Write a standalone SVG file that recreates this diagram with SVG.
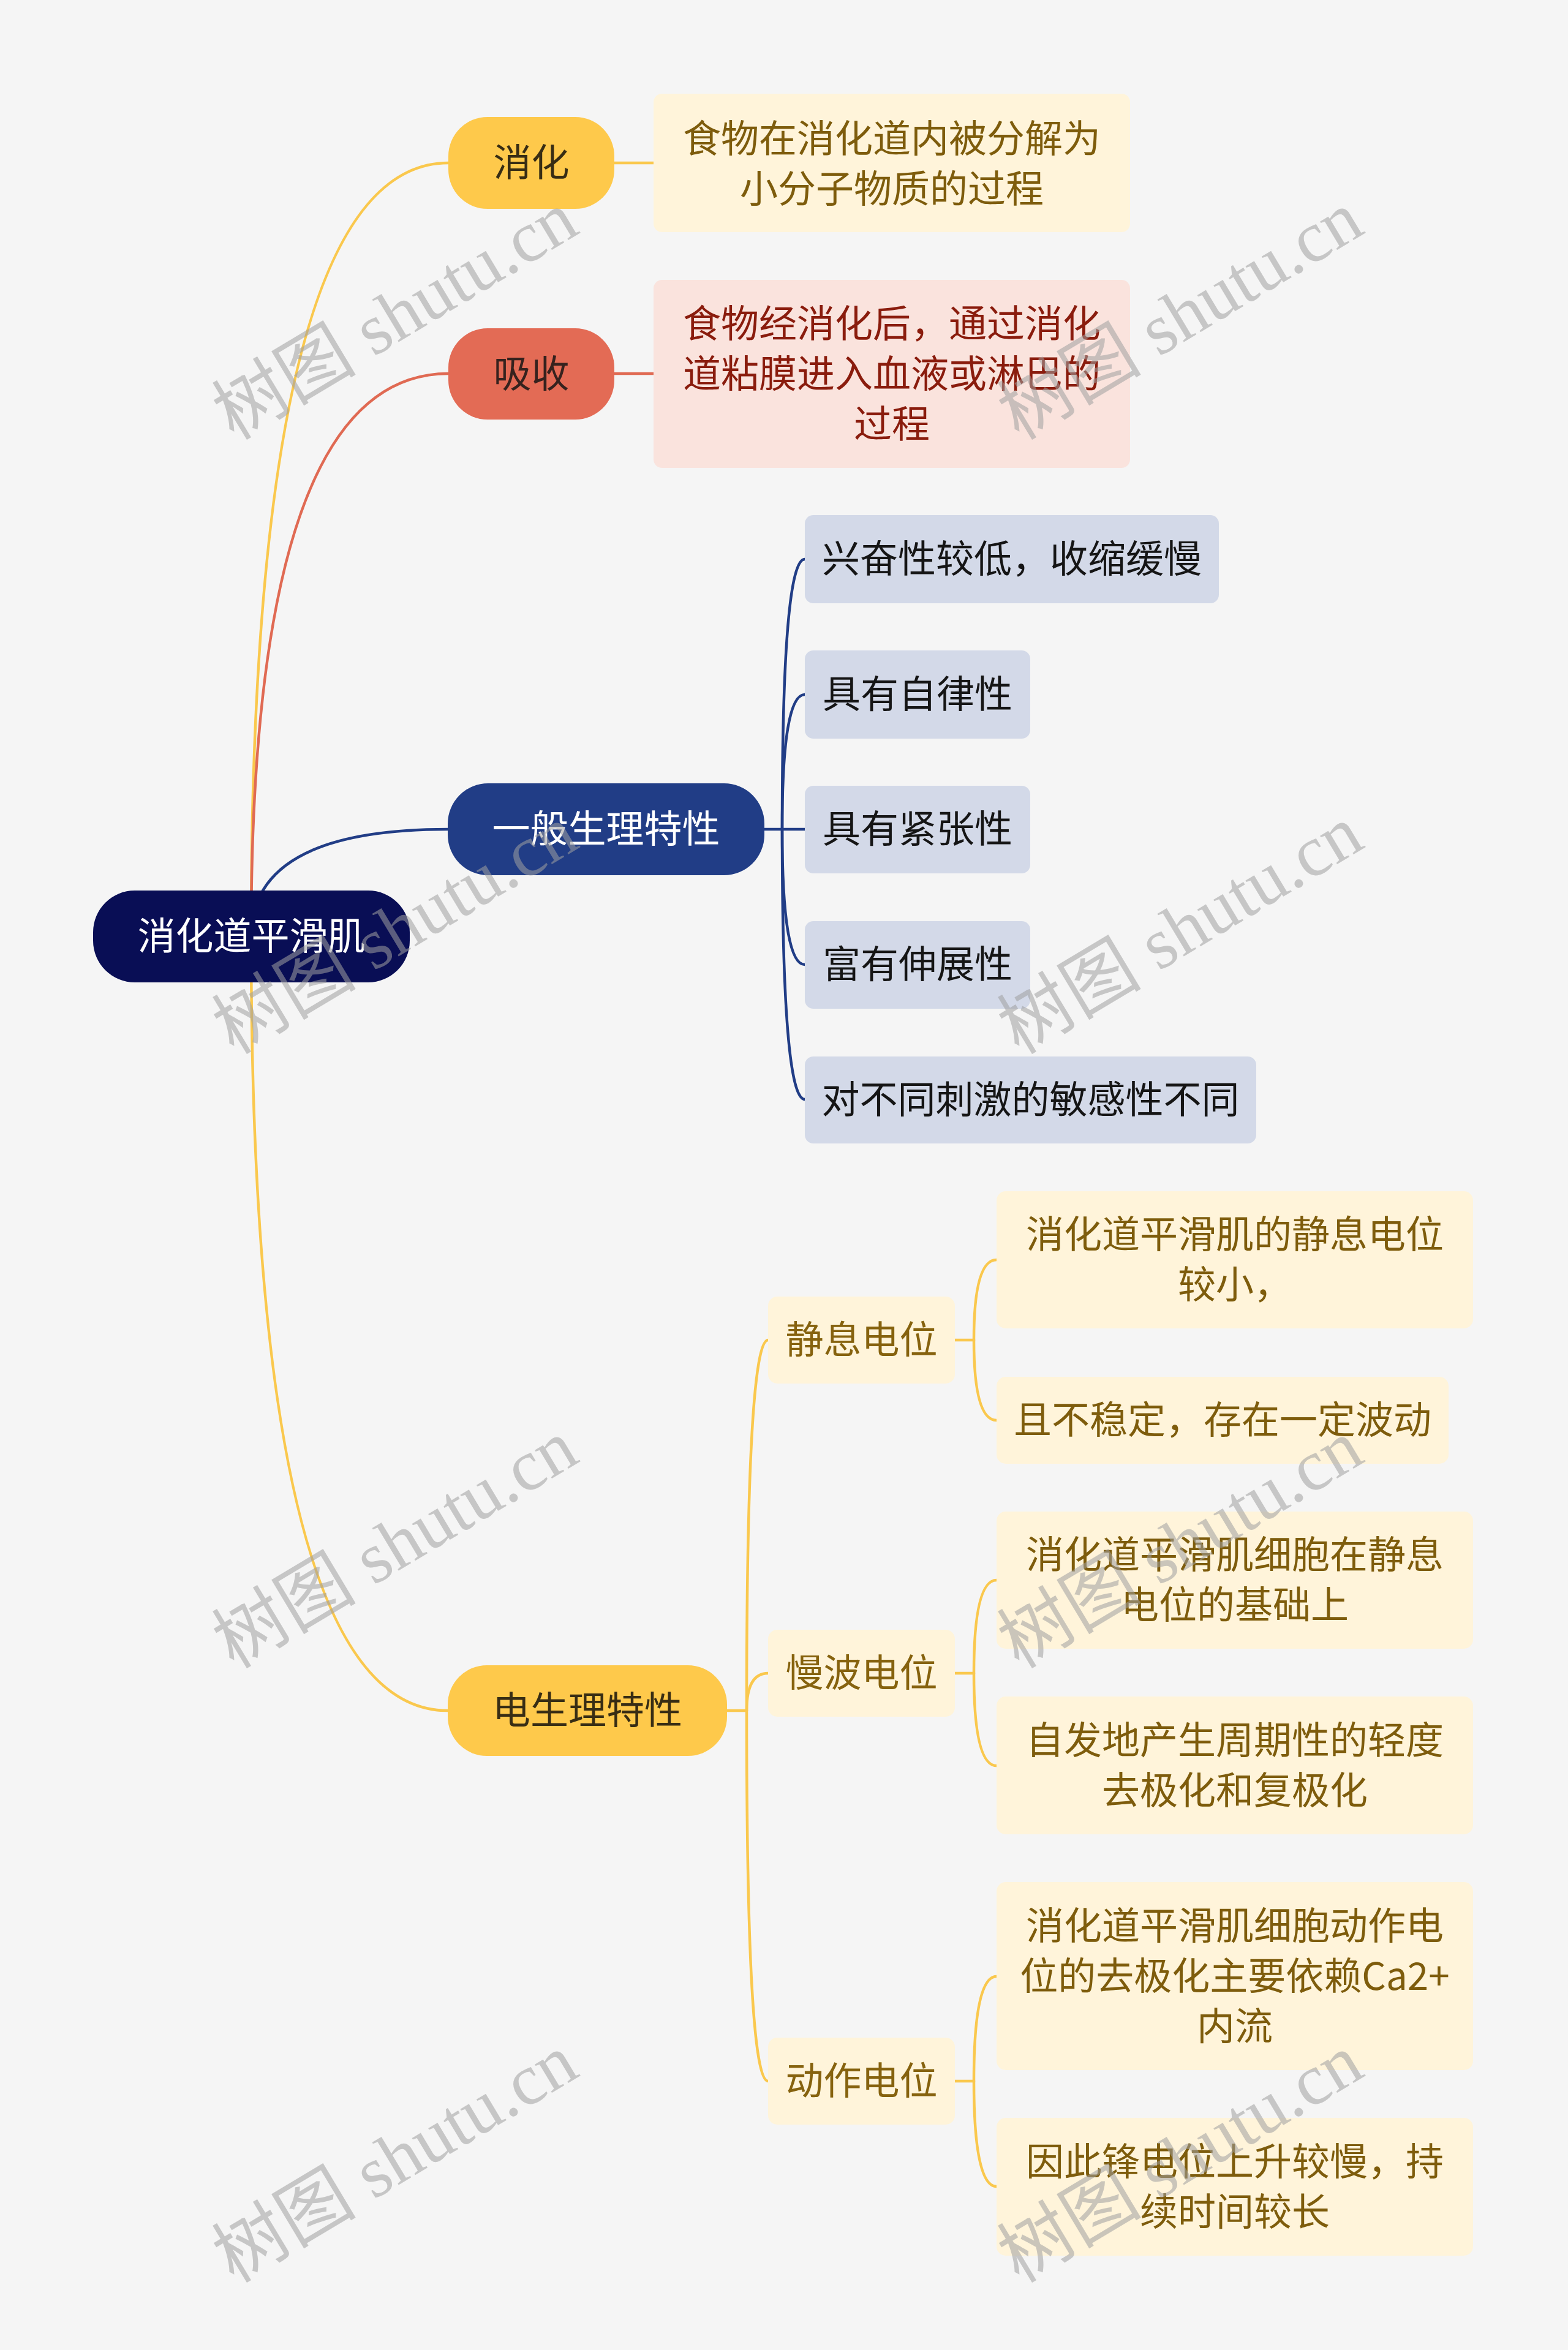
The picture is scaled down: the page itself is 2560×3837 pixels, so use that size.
<svg xmlns="http://www.w3.org/2000/svg" width="2560" height="3837" viewBox="0 0 2560 3837">
<style>
.t{font-family:"Noto Sans CJK SC","Noto Sans",sans-serif;font-size:62px;text-anchor:middle}
.c{fill:none;stroke-width:4.5;stroke-linecap:round}
.y{stroke:#FAC84D}
.r{stroke:#E06A53}
.b{stroke:#213D86}
.wm{font-family:"Liberation Serif","Noto Sans CJK SC",serif;font-size:118px;fill:#A0A0A0;opacity:0.55;text-anchor:middle}
</style>
<rect x="0" y="0" width="2560" height="3837" fill="#F5F5F5"/>
<g id="connectors">
<path class="c y" d="M410,1529 Q410,266 732,266"/>
<path class="c r" d="M410,1529 Q410,610 732,610"/>
<path class="c b" d="M410,1529 Q410,1354 731,1354"/>
<path class="c y" d="M410,1529 Q410,2793 731,2793"/>
<path class="c y" d="M1003,266 H1067"/>
<path class="c r" d="M1003,610 H1067"/>
<path class="c b" d="M1248,1354 H1277"/>
<path class="c b" d="M1277,1354 Q1277,913 1314,913"/>
<path class="c b" d="M1277,1354 Q1277,1134 1314,1134"/>
<path class="c b" d="M1277,1354 H1314"/>
<path class="c b" d="M1277,1354 Q1277,1575 1314,1575"/>
<path class="c b" d="M1277,1354 Q1277,1795 1314,1795"/>
<path class="c y" d="M1187,2793 H1219"/>
<path class="c y" d="M1219,2793 Q1219,2188 1254,2188"/>
<path class="c y" d="M1219,2793 Q1219,2732 1254,2732"/>
<path class="c y" d="M1219,2793 Q1219,3398 1254,3398"/>
<path class="c y" d="M1559,2188 H1590"/>
<path class="c y" d="M1590,2188 Q1590,2057 1627,2057"/>
<path class="c y" d="M1590,2188 Q1590,2319 1627,2319"/>
<path class="c y" d="M1559,2732 H1590"/>
<path class="c y" d="M1590,2732 Q1590,2580 1627,2580"/>
<path class="c y" d="M1590,2732 Q1590,2883 1627,2883"/>
<path class="c y" d="M1559,3398 H1590"/>
<path class="c y" d="M1590,3398 Q1590,3227 1627,3227"/>
<path class="c y" d="M1590,3398 Q1590,3570 1627,3570"/>
</g>
<g id="root">
<rect x="152" y="1454" width="517" height="150" rx="68" fill="#090E55"/>
<text class="t" x="410.5" y="1551" fill="#FFFFFF">消化道平滑肌</text>
</g>
<g id="n-xiaohua">
<rect x="732" y="191" width="271" height="150" rx="64" fill="#FEC94B"/>
<text class="t" x="867.5" y="288" fill="#382D14">消化</text>
</g>
<g id="d-xiaohua">
<rect x="1067" y="153" width="778" height="226" rx="14" fill="#FFF4DA"/>
<text class="t" fill="#7E5C0C"><tspan x="1456" y="249">食物在消化道内被分解为</tspan><tspan x="1456" y="331">小分子物质的过程</tspan></text>
</g>
<g id="n-xishou">
<rect x="732" y="536" width="271" height="149" rx="64" fill="#E36B55"/>
<text class="t" x="867.5" y="633" fill="#36221E">吸收</text>
</g>
<g id="d-xishou">
<rect x="1067" y="457" width="778" height="307" rx="14" fill="#FAE3DD"/>
<text class="t" fill="#8A1C0D"><tspan x="1456" y="551">食物经消化后，通过消化</tspan><tspan x="1456" y="633">道粘膜进入血液或淋巴的</tspan><tspan x="1456" y="715">过程</tspan></text>
</g>
<g id="n-yiban">
<rect x="731" y="1279" width="517" height="150" rx="66" fill="#213D86"/>
<text class="t" x="989.5" y="1376" fill="#FFFFFF">一般生理特性</text>
</g>
<g id="g1">
<rect x="1314" y="841" width="676" height="144" rx="14" fill="#D3D9E8"/>
<text class="t" x="1652" y="935" fill="#151515">兴奋性较低，收缩缓慢</text>
</g>
<g id="g2">
<rect x="1314" y="1062" width="368" height="144" rx="14" fill="#D3D9E8"/>
<text class="t" x="1498" y="1156" fill="#151515">具有自律性</text>
</g>
<g id="g3">
<rect x="1314" y="1283" width="368" height="143" rx="14" fill="#D3D9E8"/>
<text class="t" x="1498" y="1376" fill="#151515">具有紧张性</text>
</g>
<g id="g4">
<rect x="1314" y="1504" width="368" height="143" rx="14" fill="#D3D9E8"/>
<text class="t" x="1498" y="1597" fill="#151515">富有伸展性</text>
</g>
<g id="g5">
<rect x="1314" y="1725" width="737" height="142" rx="14" fill="#D3D9E8"/>
<text class="t" x="1682.5" y="1818" fill="#151515">对不同刺激的敏感性不同</text>
</g>
<g id="n-dian">
<rect x="731" y="2719" width="456" height="148" rx="64" fill="#FEC94B"/>
<text class="t" x="959" y="2815" fill="#382D14">电生理特性</text>
</g>
<g id="n-jingxi">
<rect x="1254" y="2117" width="305" height="142" rx="15" fill="#FFF4DA"/>
<text class="t" x="1406.5" y="2210" fill="#86620E">静息电位</text>
</g>
<g id="n-manbo">
<rect x="1254" y="2661" width="305" height="142" rx="15" fill="#FFF4DA"/>
<text class="t" x="1406.5" y="2754" fill="#86620E">慢波电位</text>
</g>
<g id="n-dongzuo">
<rect x="1254" y="3327" width="305" height="142" rx="15" fill="#FFF4DA"/>
<text class="t" x="1406.5" y="3420" fill="#86620E">动作电位</text>
</g>
<g id="a1">
<rect x="1627" y="1945" width="778" height="224" rx="15" fill="#FFF4DA"/>
<text class="t" fill="#7E5C0C"><tspan x="2016" y="2038">消化道平滑肌的静息电位</tspan><tspan x="2016" y="2120">较小，</tspan></text>
</g>
<g id="a2">
<rect x="1627" y="2248" width="738" height="142" rx="15" fill="#FFF4DA"/>
<text class="t" x="1996" y="2341" fill="#7E5C0C">且不稳定，存在一定波动</text>
</g>
<g id="b1">
<rect x="1627" y="2468" width="778" height="224" rx="15" fill="#FFF4DA"/>
<text class="t" fill="#7E5C0C"><tspan x="2016" y="2561">消化道平滑肌细胞在静息</tspan><tspan x="2016" y="2643">电位的基础上</tspan></text>
</g>
<g id="b2">
<rect x="1627" y="2770" width="778" height="225" rx="15" fill="#FFF4DA"/>
<text class="t" fill="#7E5C0C"><tspan x="2016" y="2864">自发地产生周期性的轻度</tspan><tspan x="2016" y="2946">去极化和复极化</tspan></text>
</g>
<g id="c1">
<rect x="1627" y="3073" width="778" height="307" rx="15" fill="#FFF4DA"/>
<text class="t" fill="#7E5C0C"><tspan x="2016" y="3167">消化道平滑肌细胞动作电</tspan><tspan x="2016" y="3249">位的去极化主要依赖Ca2+</tspan><tspan x="2016" y="3331">内流</tspan></text>
</g>
<g id="c2">
<rect x="1627" y="3458" width="778" height="225" rx="15" fill="#FFF4DA"/>
<text class="t" fill="#7E5C0C"><tspan x="2016" y="3552">因此锋电位上升较慢，持</tspan><tspan x="2016" y="3634">续时间较长</tspan></text>
</g>
<g id="watermarks">
<text class="wm" transform="translate(646,517) rotate(-31)" y="38">树图 shutu.cn</text>
<text class="wm" transform="translate(1928,517) rotate(-31)" y="38">树图 shutu.cn</text>
<text class="wm" transform="translate(646,1520) rotate(-31)" y="38">树图 shutu.cn</text>
<text class="wm" transform="translate(1928,1520) rotate(-31)" y="38">树图 shutu.cn</text>
<text class="wm" transform="translate(646,2523) rotate(-31)" y="38">树图 shutu.cn</text>
<text class="wm" transform="translate(1928,2523) rotate(-31)" y="38">树图 shutu.cn</text>
<text class="wm" transform="translate(646,3526) rotate(-31)" y="38">树图 shutu.cn</text>
<text class="wm" transform="translate(1928,3526) rotate(-31)" y="38">树图 shutu.cn</text>
</g>
</svg>
